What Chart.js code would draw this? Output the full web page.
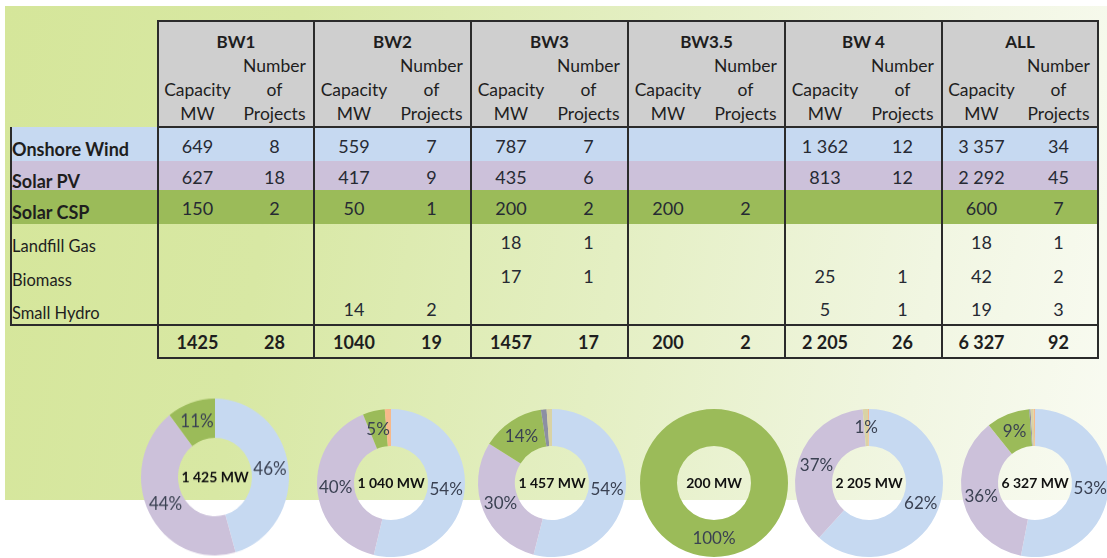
<!DOCTYPE html>
<html>
<head>
<meta charset="utf-8">
<script src="https://cdn.jsdelivr.net/npm/chart.js@4.4.1/dist/chart.umd.min.js"></script>
<style>
    body { margin: 0; width: 1107px; height: 558px; background: #fff; position: relative; overflow: hidden; font-family: Lato, 'Open Sans', sans-serif; }
    #bg { position: absolute; left: 5px; top: 6px; width: 1102px; height: 494px;
          background: linear-gradient(100deg, #d5e69a 0%, #d8e8a4 25%, #e4efc3 55%, #f1f6e2 82%, #f9fbf2 100%); }
    #tbl { position: absolute; left: 10px; top: 20px; border-collapse: collapse; table-layout: fixed; color: #262a33; }
    #tbl td { padding: 0; text-align: center; font-size: 18px; white-space: nowrap; }
    #tbl .grp { background: #cfcfcf; border: 2px solid #2b2b2b; border-bottom: none; font-weight: bold; font-size: 17px; vertical-align: bottom; line-height: 24px; color: #1e1e1e; }
    #tbl .sub { background: #cfcfcf; vertical-align: bottom; line-height: 24px; border-bottom: 2px solid #2b2b2b; font-size: 17.5px; color: #1e1e1e; }
    #tbl .lbl { text-align: left; border-left: 2px solid #2b2b2b; font-size: 16.5px; color: #1e1e1e; }
    #tbl .lbl span { position: relative; top: 5px; }
    #tbl .val span { position: relative; top: 1px; }
    #tbl .tot { font-weight: bold; border-bottom: 2px solid #2b2b2b; color: #1e1e1e; }
    .gl { border-left: 2px solid #2b2b2b; }
    .gr { border-right: 2px solid #2b2b2b; }
    .donut { position: absolute; width: 180px; height: 180px; }
</style>
</head>
<body>
<div id="bg"></div>
<table id="tbl"></table>
<div id="donuts"></div>

<script>
var waves = ['BW1', 'BW2', 'BW3', 'BW3.5', 'BW 4', 'ALL'];
var technologies = ['Onshore Wind', 'Solar PV', 'Solar CSP', 'Landfill Gas', 'Biomass', 'Small Hydro'];

// capacity (MW) and number of projects, one value per wave
var onshoreWindMW = [649, 559, 787, null, 1362, 3357];
var onshoreWindProjects = [8, 7, 7, null, 12, 34];
var solarPvMW = [627, 417, 435, null, 813, 2292];
var solarPvProjects = [18, 9, 6, null, 12, 45];
var solarCspMW = [150, 50, 200, 200, null, 600];
var solarCspProjects = [2, 1, 2, 2, null, 7];
var landfillGasMW = [null, null, 18, null, null, 18];
var landfillGasProjects = [null, null, 1, null, null, 1];
var biomassMW = [null, null, 17, null, 25, 42];
var biomassProjects = [null, null, 1, null, 1, 2];
var smallHydroMW = [null, 14, null, null, 5, 19];
var smallHydroProjects = [null, 2, null, null, 1, 3];

var totalMWText = ['1425', '1040', '1457', '200', '2 205', '6 327'];
var totalProjects = [28, 19, 17, 2, 26, 92];
var donutCenterText = ['1 425 MW', '1 040 MW', '1 457 MW', '200 MW', '2 205 MW', '6 327 MW'];
// which slices carry a percentage label in each donut
var labelledSlices = [[0, 1, 2], [0, 1, 2], [0, 1, 2], [2], [0, 1, 4], [0, 1, 2]];

var techColors = ['#c6d9f1', '#ccc1da', '#9bbb59', '#8c8fa3', '#d9d3a5', '#f7b98b'];
var rowBands = ['#c6d9f1', '#ccc1da', '#9bbb59', null, null, null];
var boldLabel = [true, true, true, false, false, false];

var capacityRows = [onshoreWindMW, solarPvMW, solarCspMW, landfillGasMW, biomassMW, smallHydroMW];
var projectRows = [onshoreWindProjects, solarPvProjects, solarCspProjects, landfillGasProjects, biomassProjects, smallHydroProjects];

function fmtMW(v) {
    if (v === null) return '';
    return String(v).replace(/\B(?=(\d{3})+(?!\d))/g, ' ');
}

// ---- table ----
function buildTable() {
    var groupW = [156, 157, 157, 157, 157, 156];
    var rowH = [34, 29, 34, 34, 34, 33];
    var html = '<colgroup><col style="width:147px">';
    groupW.forEach(function (w) {
        var half = Math.round(w / 2);
        html += '<col style="width:' + half + 'px"><col style="width:' + (w - half) + 'px">';
    });
    html += '</colgroup>';

    html += '<tr style="height:33px"><td></td>';
    waves.forEach(function (w) { html += '<td class="grp" colspan="2">' + w + '</td>'; });
    html += '</tr>';

    html += '<tr style="height:72px"><td></td>';
    waves.forEach(function () {
        html += '<td class="sub gl">Capacity<br>MW</td><td class="sub gr">Number<br>of<br>Projects</td>';
    });
    html += '</tr>';

    technologies.forEach(function (t, r) {
        var style = 'height:' + rowH[r] + 'px;' + (rowBands[r] ? 'background:' + rowBands[r] + ';' : '');
        if (r === technologies.length - 1) style += 'border-bottom:2px solid #2b2b2b;';
        html += '<tr style="' + style + '">';
        html += '<td class="lbl" style="font-weight:' + (boldLabel[r] ? 'bold;font-size:18px' : 'normal') + '"><span>' + t + '</span></td>';
        waves.forEach(function (w, i) {
            var p = projectRows[r][i];
            html += '<td class="val gl"><span>' + fmtMW(capacityRows[r][i]) + '</span></td>';
            html += '<td class="val gr"><span>' + (p === null ? '' : p) + '</span></td>';
        });
        html += '</tr>';
    });

    html += '<tr style="height:33px"><td></td>';
    waves.forEach(function (w, i) {
        html += '<td class="tot gl">' + totalMWText[i] + '</td><td class="tot gr">' + totalProjects[i] + '</td>';
    });
    html += '</tr>';
    document.getElementById('tbl').innerHTML = html;
}
buildTable();

// ---- donuts ----
var donutX = [215, 391, 552, 714, 869, 1035];
var donutY = [477, 483, 483, 483, 483, 483];
var donutScaleY = [1.06, 1, 1, 1, 1, 1];

function makeDonut(i) {
    var holder = document.createElement('div');
    holder.className = 'donut';
    holder.style.left = (donutX[i] - 90) + 'px';
    holder.style.top = (donutY[i] - 90) + 'px';
    holder.style.transform = 'scale(1,' + donutScaleY[i] + ')';
    var canvas = document.createElement('canvas');
    canvas.width = 180;
    canvas.height = 180;
    holder.appendChild(canvas);
    document.getElementById('donuts').appendChild(holder);

    var values = capacityRows.map(function (row) { return row[i] || 0; });

    var labelPlugin = {
        id: 'sliceLabels' + i,
        afterDatasetsDraw: function (chart) {
            var ctx = chart.ctx;
            var meta = chart.getDatasetMeta(0);
            var total = values.reduce(function (a, b) { return a + b; }, 0);
            ctx.save();
            ctx.textAlign = 'center';
            ctx.textBaseline = 'middle';
            ctx.font = '17px Lato';
            ctx.fillStyle = '#3a4152';
            labelledSlices[i].forEach(function (k) {
                var pt = meta.data[k].getCenterPoint();
                ctx.fillText(Math.round(values[k] / total * 100) + '%', pt.x, pt.y);
            });
            var arc = meta.data[0];
            ctx.font = 'bold 14px Lato';
            ctx.fillStyle = '#111';
            ctx.fillText(donutCenterText[i], arc.x, arc.y);
            ctx.restore();
        }
    };

    new Chart(canvas, {
        type: 'doughnut',
        data: {
            labels: technologies,
            datasets: [{
                data: values,
                backgroundColor: techColors,
                borderWidth: 0
            }]
        },
        options: {
            responsive: false,
            animation: false,
            events: [],
            cutout: '50%',
            layout: { padding: 16 },
            plugins: {
                legend: { display: false },
                tooltip: { enabled: false }
            }
        },
        plugins: [labelPlugin]
    });
}

for (var i = 0; i < waves.length; i++) {
    makeDonut(i);
}
</script>
</body>
</html>
